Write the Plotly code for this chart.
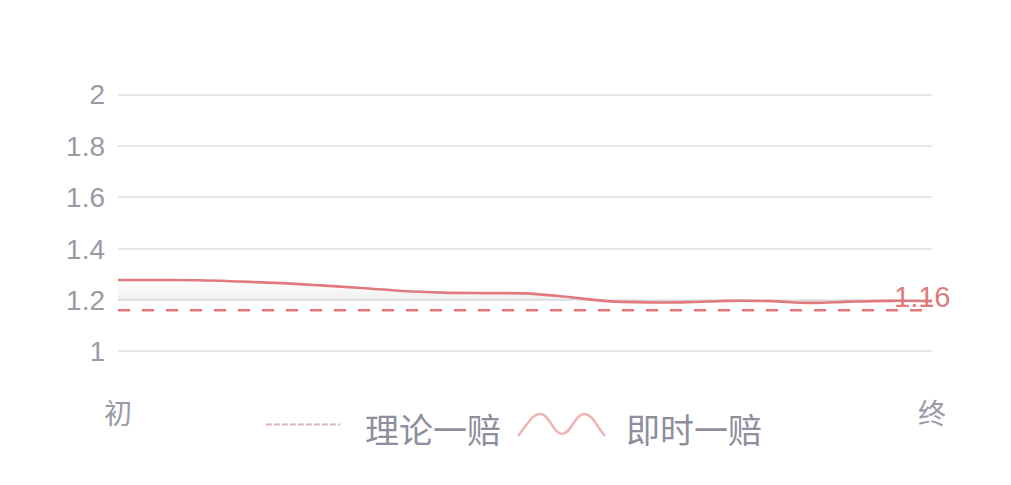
import plotly.graph_objects as go

# ---- data ----
x_idx = list(range(21))
live_odds = [1.278, 1.278, 1.277, 1.272, 1.266, 1.257, 1.247, 1.235, 1.229, 1.227,
             1.226, 1.213, 1.196, 1.191, 1.192, 1.197, 1.196, 1.189, 1.194, 1.197, 1.196]
theory_odds = 1.16
shade_base = 1.2
x_tick_vals = [0, 20]
x_tick_text = ["初", "终"]
y_tick_vals = [1, 1.2, 1.4, 1.6, 1.8, 2]
y_tick_text = ["1", "1.2", "1.4", "1.6", "1.8", "2"]
legend_names = ["理论一赔", "即时一赔"]

# page body has an 8px margin; figure is sized to fit the window
OFF = 8
W, H = 1011 - OFF, 485 - OFF
ML, MR, MT, MB = 118 - OFF, 79, 92 - OFF, 131
PW, PH = W - ML - MR, H - MT - MB

def px(xp):  # window pixel -> paper x
    return (xp - OFF - ML) / PW

def py(yp):  # window pixel -> paper y
    return (H - MB - (yp - OFF)) / PH

LINE_RED = "#e07a80"
DASH_RED = "#e57878"
GRAY_TXT = "#9a9aa6"
FONT_NUM = "Liberation Sans, Noto Sans CJK SC, sans-serif"
FONT_CJK = "Noto Sans CJK SC, sans-serif"

fig = go.Figure()

# baseline for the soft shaded band under the live line
fig.add_trace(go.Scatter(
    x=x_idx, y=[shade_base] * len(x_idx), mode="lines",
    line=dict(color="rgba(0,0,0,0)", width=0),
    hoverinfo="skip", showlegend=False))

# live line with gradient fill down to baseline
fig.add_trace(go.Scatter(
    x=x_idx, y=live_odds, mode="lines",
    line=dict(color=LINE_RED, width=2.6, shape="spline", smoothing=1.0),
    fill="tonexty",
    fillgradient=dict(type="vertical",
                      colorscale=[[0, "rgba(0,0,0,0.075)"], [0.5, "rgba(0,0,0,0.035)"],
                                  [1, "rgba(0,0,0,0.005)"]]),
    name=legend_names[1], showlegend=False))

# theory line (dashed)
fig.add_trace(go.Scatter(
    x=[x_idx[0], x_idx[-1]], y=[theory_odds, theory_odds], mode="lines",
    line=dict(color=DASH_RED, width=2.5, dash="12px,12px"),
    name=legend_names[0], showlegend=False))

fig.add_annotation(
    x=x_idx[-1], y=theory_odds, xref="x", yref="y", text=f"{theory_odds:.2f}",
    showarrow=False, yshift=13, xshift=-10, xanchor="center", yanchor="middle",
    font=dict(family=FONT_NUM, size=29, color="#e07b7b"))

# custom legend
shapes = []
shapes.append(dict(type="line", xref="paper", yref="paper",
                   x0=px(266), x1=px(340), y0=py(424.5), y1=py(424.5),
                   line=dict(color="#e2b6c6", width=2, dash="6px,2px")))
path = f"M {px(518)},{py(436)} "
path += f"C {px(528)},{py(424)} {px(532)},{py(414)} {px(540)},{py(414)} "
path += f"C {px(550)},{py(414)} {px(553)},{py(434)} {px(562)},{py(434)} "
path += f"C {px(571)},{py(434)} {px(575)},{py(414)} {px(584)},{py(414)} "
path += f"C {px(593)},{py(414)} {px(596)},{py(426)} {px(605)},{py(436)}"
shapes.append(dict(type="path", xref="paper", yref="paper", path=path,
                   line=dict(color="#f0b4b4", width=2.5)))

for name, cx in zip(legend_names, [433, 694]):
    fig.add_annotation(x=px(cx), y=py(428), xref="paper", yref="paper",
                       text=name, showarrow=False, xanchor="center", yanchor="middle",
                       font=dict(family=FONT_CJK, size=34, color="#8e8e9c"))

fig.update_layout(
    width=W, height=H,
    margin=dict(l=ML, r=MR, t=MT, b=MB),
    paper_bgcolor="white", plot_bgcolor="white",
    showlegend=False,
    shapes=shapes,
    xaxis=dict(range=[0, 20], tickvals=x_tick_vals, ticktext=x_tick_text,
               showgrid=False, zeroline=False, showline=False, ticks="",
               ticklabelstandoff=41,
               tickfont=dict(family=FONT_CJK, size=28, color=GRAY_TXT)),
    yaxis=dict(range=[0.99, 2.01], tickvals=y_tick_vals, ticktext=y_tick_text,
               showgrid=True, gridcolor="#e8e8ec", gridwidth=1.5,
               zeroline=False, showline=False, ticks="",
               ticklabelstandoff=12,
               tickfont=dict(family=FONT_NUM, size=28, color=GRAY_TXT)),
)

fig.write_html("out.html")
